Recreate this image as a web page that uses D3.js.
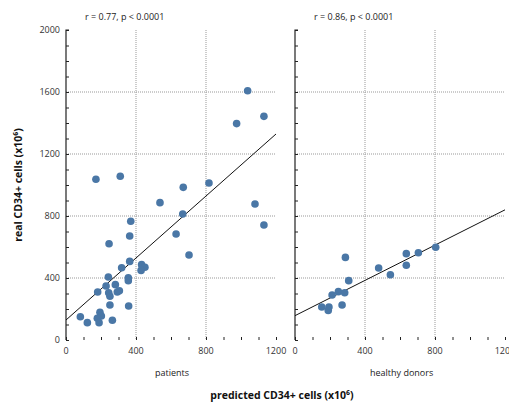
<!DOCTYPE html>
<html><head><meta charset="utf-8">
<script src="https://cdn.jsdelivr.net/npm/d3@7"></script>
<style>body{margin:0;background:#fff;}svg{display:block;font-family:"Open Sans","Noto Sans",sans-serif;}</style>
</head><body><svg id="c" width="509" height="405"></svg>
<script>
const panelNames = ["patients", "healthy donors"];
const statLabels = ["r = 0.77, p < 0.0001", "r = 0.86, p < 0.0001"];
const xTickLabels = [0, 400, 800, 1200];
const yTickLabels = [0, 400, 800, 1200, 1600, 2000];
const patientsX = [1038,975,1131,171,310,817,670,537,1080,1131,667,370,629,364,246,703,364,318,432,451,429,242,356,356,282,229,181,244,251,293,305,251,358,194,202,179,189,82,122,265];
const patientsY = [1608,1396,1443,1037,1056,1013,985,886,877,742,813,766,684,671,621,548,507,466,486,469,449,406,402,383,357,348,310,305,282,310,318,226,219,179,155,140,112,150,112,127];
const donorsX = [804,705,636,636,478,545,288,307,248,284,212,153,194,190,269];
const donorsY = [598,563,557,482,465,421,533,383,312,305,290,213,213,191,226];
const fitIntercept = [129, 157];
const fitSlope = [1.0, 0.569];

const svg = d3.select("#c");
const y = d3.scaleLinear().domain([0, 2000]).range([340, 30]);
const panels = [
  {x0: 66, xs: patientsX, ys: patientsY, labelX: 155, statX: 85},
  {x0: 295, xs: donorsX, ys: donorsY, labelX: 370, statX: 314}
];
const col = "#4a77a6";
panels.forEach((p, i) => {
  const x = d3.scaleLinear().domain([0, 1200]).range([p.x0, p.x0 + 210]);
  const g = svg.append("g");
  // grid
  [400, 800].forEach(v => {
    g.append("line").attr("x1", x(v)).attr("x2", x(v)).attr("y1", y(2000)).attr("y2", y(0))
      .attr("stroke", "#999").attr("stroke-width", 1).attr("stroke-dasharray", "1,1");
  });
  [400, 800, 1200, 1600].forEach(v => {
    g.append("line").attr("x1", x(0)).attr("x2", x(1200)).attr("y1", y(v)).attr("y2", y(v))
      .attr("stroke", "#999").attr("stroke-width", 1).attr("stroke-dasharray", "1,1");
  });
  // axes
  const ya = d3.axisRight(y).tickValues(d3.range(0, 2001, 100)).tickSize(3).tickFormat("");
  const yg = g.append("g").attr("transform", `translate(${x(0)},0)`).call(ya);
  const xa = d3.axisTop(x).tickValues(d3.range(0, 1201, 100)).tickSize(3).tickFormat("");
  const xg = g.append("g").attr("transform", `translate(0,${y(0)})`).call(xa);
  [yg, xg].forEach(a => { a.selectAll("path").attr("stroke", "#222").attr("stroke-width", 1.2); a.selectAll("line").attr("stroke", "#222"); });
  yg.select(".domain").attr("d", `M3,${y(2000)}H0V${y(0)}`);
  xg.select(".domain").attr("d", `M${x(0)},${y(0)-0}H${x(1200)}`);
  // x tick labels
  g.selectAll(".xl").data(xTickLabels).enter().append("text")
    .attr("x", d => x(d)).attr("y", 354).attr("text-anchor", "middle")
    .attr("font-size", 9).attr("fill", "#333").text(d => d);
  if (i === 0) {
    g.selectAll(".yl").data(yTickLabels).enter().append("text")
      .attr("x", x(0) - 6).attr("y", d => y(d) + 3).attr("text-anchor", "end")
      .attr("font-size", 9).attr("fill", "#333").text(d => d);
  }
  // regression line
  g.append("line").attr("x1", x(0)).attr("y1", y(fitIntercept[i]))
    .attr("x2", x(1200)).attr("y2", y(fitIntercept[i] + fitSlope[i] * 1200))
    .attr("stroke", "#111").attr("stroke-width", 1);
  // points
  g.selectAll("circle").data(p.xs.map((v, k) => [v, p.ys[k]])).enter().append("circle")
    .attr("cx", d => x(d[0])).attr("cy", d => y(d[1])).attr("r", 3.8).attr("fill", col);
  // texts
  g.append("text").attr("x", p.statX).attr("y", 20).attr("font-size", 9).attr("fill", "#222").text(statLabels[i]);
  g.append("text").attr("x", p.labelX).attr("y", 376).attr("font-size", 9).attr("fill", "#222").text(panelNames[i]);
});
svg.append("text").attr("x", 282).attr("y", 399).attr("text-anchor", "middle")
  .attr("font-size", 10.5).attr("font-weight", "bold").attr("fill", "#111").text("predicted CD34+ cells (x10⁶)");
svg.append("text").attr("transform", "translate(22,185) rotate(-90)").attr("text-anchor", "middle")
  .attr("font-size", 10.5).attr("font-weight", "bold").attr("fill", "#111").text("real CD34+ cells (x10⁶)");
</script></body></html>
